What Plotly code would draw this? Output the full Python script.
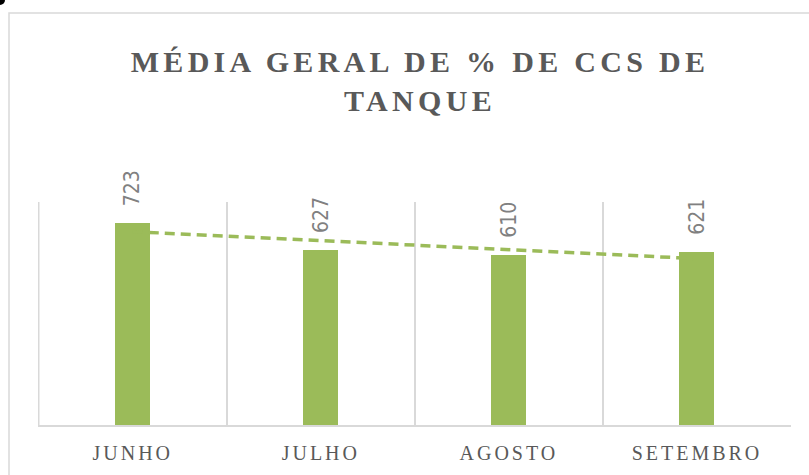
import numpy as np
import plotly.graph_objects as go

# ---- data ----
categories = ["JUNHO", "JULHO", "AGOSTO", "SETEMBRO"]
values = [723, 627, 610, 621]
title_text = "MÉDIA GERAL DE % DE CCS DE<br>TANQUE"

# ---- styling ----
W, H = 809, 475
ML, MR, MT, MB = 38, 18, 202, 50
GREEN = "#9BBB59"
GRID = "#D9D9D9"

pw = W - ML - MR
ph = H - MT - MB


def px_x(p):
    return (p - ML) / pw


def px_y(p):
    return (H - MB - p) / ph


# linear trendline (like Excel) computed from the data
idx = np.arange(1, len(values) + 1)
slope, intercept = np.polyfit(idx, values, 1)
trend = slope * idx + intercept

fig = go.Figure()
fig.add_trace(go.Bar(
    x=categories, y=values, width=0.186,
    marker=dict(color=GREEN, line=dict(width=0)),
    hoverinfo="skip", showlegend=False,
))
fig.add_trace(go.Scatter(
    x=categories, y=trend, mode="lines",
    line=dict(color=GREEN, width=3.5, dash="10px,6px"),
    hoverinfo="skip", showlegend=False,
))

for c, v in zip(categories, values):
    fig.add_annotation(
        x=c, y=v, text=str(v), showarrow=False, textangle=-90,
        xanchor="center", yanchor="bottom", yshift=15,
        font=dict(family="Liberation Sans Narrow, Arial Narrow, DejaVu Sans Condensed, sans-serif",
                  size=21, color="#808080"),
    )

# left plot-area edge line (category boundary)
fig.add_shape(type="line", xref="x", yref="paper", x0=-0.5, x1=-0.5, y0=0, y1=1,
              line=dict(color=GRID, width=1.5), layer="below")
# outer chart border
fig.add_shape(type="rect", xref="paper", yref="paper",
              x0=px_x(9), x1=px_x(813), y0=px_y(480), y1=px_y(13),
              line=dict(color=GRID, width=1.5), fillcolor="rgba(0,0,0,0)", layer="below")
# small black mark in the top-left corner
fig.add_shape(type="circle", xref="paper", yref="paper",
              x0=px_x(-5), x1=px_x(5), y0=px_y(5), y1=px_y(-5),
              line=dict(width=0), fillcolor="black")

fig.update_layout(
    width=W, height=H,
    margin=dict(l=ML, r=MR, t=MT, b=MB, pad=0),
    paper_bgcolor="white", plot_bgcolor="white",
    title=dict(
        text=title_text,
        font=dict(family="Liberation Serif, Times New Roman, serif", size=30,
                  color="#595959", weight="bold"),
        x=420 / W, xanchor="center", xref="container",
        y=1 - 72 / H, yanchor="top", yref="container",
    ),
    xaxis=dict(
        tickson="boundaries", showgrid=True, gridcolor=GRID, gridwidth=1.5,
        showline=True, linecolor=GRID, linewidth=1.5, ticks="",
        tickfont=dict(family="Liberation Serif, Times New Roman, serif", size=20, color="#595959"),
        ticklabelstandoff=9, fixedrange=True,
    ),
    yaxis=dict(range=[0, 800], visible=False, fixedrange=True),
    bargap=0,
)

post = """
document.body.style.margin = '0';
document.body.style.padding = '0';
var gd = document.getElementById('{plot_id}');
function ls(){
  gd.querySelectorAll('.gtitle').forEach(function(e){ e.style.letterSpacing='4.3px'; });
  gd.querySelectorAll('.xtick text').forEach(function(e){ e.style.letterSpacing='3px'; });
}
ls();
gd.on('plotly_afterplot', ls);
"""
fig.write_html("out.html", post_script=post, config={"displayModeBar": False})
